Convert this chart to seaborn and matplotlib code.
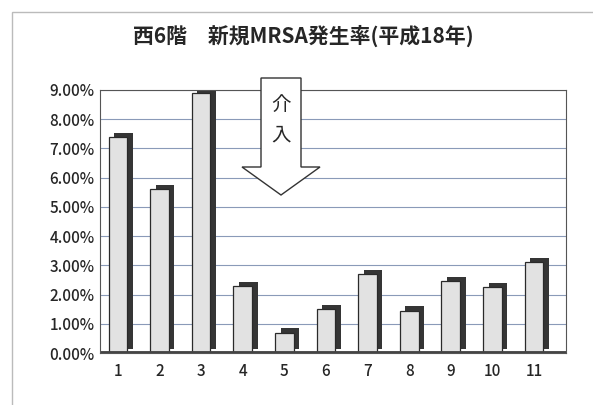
import numpy as np
import pandas as pd
import seaborn as sns
import matplotlib
matplotlib.use("Agg")
import matplotlib.pyplot as plt
import matplotlib.patheffects as pe
from matplotlib.patches import FancyArrow, Rectangle
from matplotlib.ticker import FuncFormatter, MultipleLocator

# donnees
mois = ["1", "2", "3", "4", "5", "6", "7", "8", "9", "10", "11"]
taux = [7.4, 5.6, 8.9, 2.3, 0.7, 1.5, 2.7, 1.45, 2.45, 2.25, 3.1]  # en %
titre = "西6階　新規MRSA発生率(平成18年)"
texte_fleche = "介\n入"

df = pd.DataFrame({"mois": mois, "taux": taux})

sns.set_theme(style="white")
plt.rcParams['font.family'] = ['Noto Sans CJK JP', 'DejaVu Sans']

fig = plt.figure(figsize=(5.93, 4.05), dpi=100)
ax = fig.add_axes([100/593, 1 - 353/405, (566-100)/593, (353-90)/405])

ombre = [pe.SimplePatchShadow(offset=(4, 3), shadow_rgbFace='#353535', alpha=1), pe.Normal()]
g = sns.barplot(data=df, x="mois", y="taux", color="#e2e2e2", edgecolor="#2a2a2a",
                linewidth=0.9, width=0.45, saturation=1, ax=ax)
for b in g.patches:
    b.set_path_effects(ombre)

ax.set_ylim(0, 9)
ax.set_xlim(-0.43, 10.77)
ax.yaxis.set_major_locator(MultipleLocator(1))
ax.yaxis.set_major_formatter(FuncFormatter(lambda v, p: f"{v:.2f}%"))
ax.grid(axis='y', color='#8a9ab8', linewidth=0.8)
ax.set_axisbelow(True)
for s in ax.spines.values():
    s.set_color('#555555')
    s.set_linewidth(0.8)
ax.axhline(0, color='#444444', linewidth=3.5, zorder=1)
ax.set_xlabel("")
ax.set_ylabel("")
ax.tick_params(axis='y', labelsize=11, pad=4, length=0)
ax.tick_params(axis='x', labelsize=11, pad=7, length=0)
for t in ax.get_yticklabels() + ax.get_xticklabels():
    t.set_fontweight('medium')

fig.text(303/593, 1 - 36/405, titre, ha='center', va='center', fontsize=15, fontweight='bold')

# fleche "intervention"
fl = FancyArrow(281/593, 1 - 78/405, 0, -(195-78)/405, width=40/593, head_width=78/593,
                head_length=(195-167)/405, length_includes_head=True,
                transform=fig.transFigure, facecolor='white', edgecolor='#333333',
                linewidth=1, zorder=10)
fig.patches.append(fl)
fig.text(281/593, 1 - 120/405, texte_fleche, ha='center', va='center', fontsize=14,
         linespacing=1.6, zorder=11)

# cadre de la page
fig.patches.append(Rectangle((12/593, -0.01), 0.99, 1 - 12/405 + 0.01, transform=fig.transFigure,
                             fill=False, edgecolor='#bbbbbb', linewidth=1))

fig.savefig("out.png", dpi=100)
